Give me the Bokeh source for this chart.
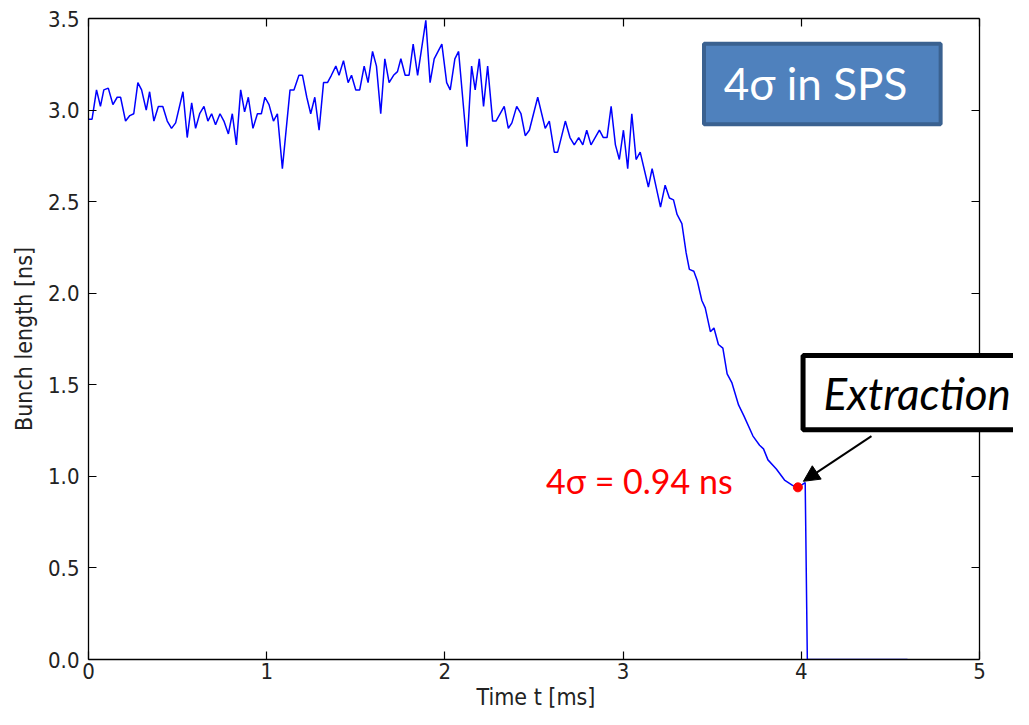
from bokeh.plotting import figure
from bokeh.models import (Label, Arrow, NormalHead, LinearAxis, FixedTicker,
                          NumeralTickFormatter, Range1d, BoxAnnotation, Title)
from bokeh.embed import file_html
from bokeh.resources import INLINE

# ---- data ----
time_ms = [0.000, 0.020, 0.045, 0.067, 0.086, 0.111, 0.137, 0.161, 0.180, 0.208,
           0.232, 0.254, 0.277, 0.298, 0.324, 0.343, 0.367, 0.392, 0.417, 0.442,
           0.466, 0.489, 0.530, 0.554, 0.579, 0.601, 0.624, 0.648, 0.670, 0.691,
           0.713, 0.738, 0.760, 0.785, 0.807, 0.830, 0.854, 0.876, 0.897, 0.923,
           0.948, 0.970, 0.990, 1.013, 1.038, 1.060, 1.088, 1.131, 1.153, 1.181,
           1.201, 1.225, 1.247, 1.270, 1.294, 1.319, 1.341, 1.363, 1.388, 1.406,
           1.431, 1.457, 1.476, 1.500, 1.522, 1.547, 1.569, 1.594, 1.616, 1.640,
           1.663, 1.687, 1.712, 1.734, 1.753, 1.777, 1.799, 1.822, 1.847, 1.893,
           1.917, 1.940, 1.983, 2.010, 2.030, 2.056, 2.077, 2.124, 2.150, 2.170,
           2.193, 2.217, 2.240, 2.268, 2.287, 2.333, 2.356, 2.376, 2.403, 2.427,
           2.451, 2.474, 2.521, 2.563, 2.586, 2.614, 2.633, 2.676, 2.702, 2.726,
           2.751, 2.774, 2.796, 2.820, 2.867, 2.889, 2.910, 2.933, 2.957, 2.979,
           3.002, 3.026, 3.049, 3.073, 3.096, 3.142, 3.163, 3.210, 3.236, 3.260,
           3.283, 3.303, 3.330, 3.354, 3.372, 3.397, 3.416, 3.442, 3.461, 3.490,
           3.510, 3.535, 3.560, 3.584, 3.611, 3.648, 3.678, 3.729, 3.766, 3.788,
           3.813, 3.860, 3.906, 3.953, 3.981, 4.022, 4.034, 4.596]
bunch_length_ns = [2.95, 2.95, 3.11, 3.02, 3.11, 3.12, 3.03, 3.07, 3.07, 2.94,
                   2.97, 2.98, 3.15, 3.11, 3.00, 3.10, 2.94, 3.02, 3.02, 2.94,
                   2.90, 2.93, 3.10, 2.85, 3.04, 2.90, 2.98, 3.02, 2.94, 2.98,
                   2.92, 2.98, 2.94, 2.87, 2.98, 2.81, 3.11, 2.99, 3.07, 2.90,
                   2.98, 2.98, 3.07, 3.03, 2.94, 2.98, 2.68, 3.11, 3.11, 3.19,
                   3.19, 3.07, 2.98, 3.07, 2.89, 3.15, 3.15, 3.19, 3.24, 3.19,
                   3.27, 3.15, 3.19, 3.11, 3.11, 3.24, 3.15, 3.32, 3.24, 2.98,
                   3.28, 3.15, 3.19, 3.21, 3.28, 3.19, 3.19, 3.36, 3.19, 3.49,
                   3.15, 3.28, 3.36, 3.15, 3.11, 3.28, 3.32, 2.80, 3.24, 3.11,
                   3.28, 3.02, 3.24, 2.94, 2.94, 3.02, 2.90, 2.93, 3.02, 2.98,
                   2.86, 2.89, 3.07, 2.90, 2.94, 2.77, 2.77, 2.94, 2.85, 2.81,
                   2.85, 2.81, 2.89, 2.81, 2.89, 2.85, 2.85, 3.02, 2.81, 2.73,
                   2.89, 2.68, 2.98, 2.73, 2.77, 2.58, 2.68, 2.47, 2.59, 2.52,
                   2.51, 2.43, 2.38, 2.22, 2.13, 2.12, 2.07, 1.96, 1.92, 1.79,
                   1.81, 1.72, 1.70, 1.56, 1.51, 1.39, 1.33, 1.22, 1.17, 1.15,
                   1.09, 1.04, 0.98, 0.95, 0.94, 0.966, 0.0, 0.0]

extraction_time = [3.981]
extraction_length = [0.94]

x_ticks = [0, 1, 2, 3, 4, 5]
y_ticks = [0.0, 0.5, 1.0, 1.5, 2.0, 2.5, 3.0, 3.5]

AX_FONT = "DejaVu Sans Condensed, DejaVu Sans"

# frame extends to the right edge of the canvas so that the "Extraction" box is not cut;
# the visible right spine is an axis fixed at t = 5 ms
p = figure(width=1013, height=709, output_backend="svg", toolbar_location=None,
           x_range=Range1d(0, 5.191), y_range=Range1d(0, 3.5),
           min_border_left=88, min_border_top=18, min_border_right=0,
           min_border_bottom=30)
p.grid.visible = False
p.outline_line_color = None
p.background_fill_color = "white"
p.border_fill_color = "white"

for ax in (p.xaxis[0], p.yaxis[0]):
    ax.major_tick_in = 8
    ax.major_tick_out = 0
    ax.minor_tick_in = 0
    ax.minor_tick_out = 0
    ax.axis_line_color = "black"
    ax.axis_line_width = 1.3
    ax.major_tick_line_width = 1.2
    ax.major_label_text_font = AX_FONT
    ax.major_label_text_font_size = "22px"
    ax.major_label_text_color = "#222222"
    ax.axis_label_text_font = AX_FONT
    ax.axis_label_text_font_size = "23px"
    ax.axis_label_text_font_style = "normal"
    ax.axis_label_text_color = "#222222"

p.xaxis[0].ticker = FixedTicker(ticks=x_ticks)
p.xaxis[0].bounds = (0, 5)
p.yaxis[0].ticker = FixedTicker(ticks=y_ticks)
p.yaxis[0].formatter = NumeralTickFormatter(format="0.0")
p.yaxis[0].axis_label = "Bunch length [ns]"
p.xaxis[0].major_label_standoff = 3
p.yaxis[0].major_label_standoff = 9
p.yaxis[0].axis_label_standoff = 8

# x axis title, placed under the 0..5 ms part of the frame
p.add_layout(Title(text="Time t [ms]", align="left", offset=388, standoff=0,
                   text_font=AX_FONT, text_font_size="23px", text_font_style="normal",
                   text_color="#222222"), "below")

# mirrored ticks on top and right (matplotlib classic style)
top_ax = LinearAxis(ticker=FixedTicker(ticks=x_ticks), bounds=(0, 5),
                    major_tick_in=8, major_tick_out=0,
                    minor_tick_in=0, minor_tick_out=0, major_label_text_font_size="0px",
                    major_label_standoff=0,
                    axis_line_width=1.3, major_tick_line_width=1.2)
right_ax = LinearAxis(ticker=FixedTicker(ticks=y_ticks), fixed_location=5,
                      major_tick_in=8, major_tick_out=0,
                      minor_tick_in=0, minor_tick_out=0, major_label_text_font_size="0px",
                      major_label_standoff=0,
                      axis_line_width=1.3, major_tick_line_width=1.2)
p.add_layout(top_ax, "above")
p.add_layout(right_ax, "right")

p.line(time_ms, bunch_length_ns, line_color="#0000ff", line_width=1.5)
p.scatter(extraction_time, extraction_length, size=9, color="#ff0000", line_color="#ff0000")

# red annotation
p.add_layout(Label(x=2.567, y=0.979, text="4σ = 0.94 ns", text_color="#ff0000",
                   text_font="Lato", text_font_size="34px",
                   text_align="left", text_baseline="alphabetic"))

# "4σ in SPS" box
p.add_layout(BoxAnnotation(left=3.454, right=4.782, top=3.362, bottom=2.922,
                           fill_color="#4f81bd", fill_alpha=1.0,
                           line_color="#3a6190", line_width=4, line_alpha=1.0))
p.add_layout(Label(x=4.080, y=3.147, text="4σ in SPS", text_color="white",
                   text_font="Lato", text_font_size="44px",
                   text_align="center", text_baseline="middle"))

# "Extraction" box
p.add_layout(BoxAnnotation(left=4.01, right=5.4, top=1.660, bottom=1.255,
                           fill_color="white", fill_alpha=1.0,
                           line_color="black", line_width=5, line_alpha=1.0))
p.add_layout(Label(x=4.125, y=1.455, text="Extraction", text_color="black",
                   text_font="Lato", text_font_size="44px", text_font_style="italic",
                   text_align="left", text_baseline="middle"))

p.add_layout(Arrow(x_start=4.394, y_start=1.22, x_end=4.012, y_end=0.973,
                   line_color="black", line_width=2,
                   end=NormalHead(size=16, fill_color="black", line_color="black")))

open("out.html", "w").write(file_html(p, INLINE))
